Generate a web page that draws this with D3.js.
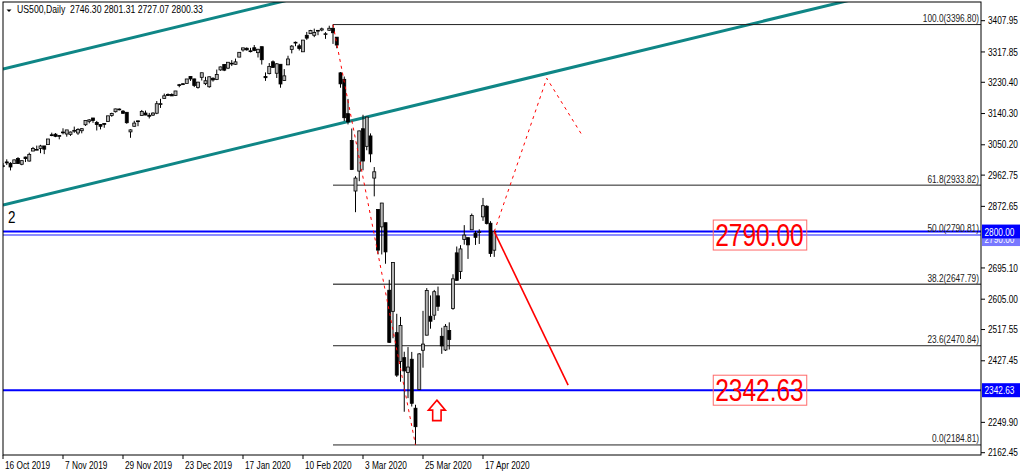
<!DOCTYPE html>
<html><head><meta charset="utf-8">
<script src="https://cdn.jsdelivr.net/npm/d3@7"></script>
<style>html,body{margin:0;padding:0;background:#fff;overflow:hidden}svg{display:block}</style>
</head><body>
<script>
// ---------- DATA ----------
const dates = ["16 Oct","17 Oct","18 Oct","21 Oct","22 Oct","23 Oct","24 Oct","25 Oct","28 Oct","29 Oct","30 Oct","31 Oct",
"1 Nov","4 Nov","5 Nov","6 Nov","7 Nov","8 Nov","11 Nov","12 Nov","13 Nov","14 Nov","15 Nov","18 Nov","19 Nov","20 Nov","21 Nov","22 Nov","25 Nov","26 Nov","27 Nov","28 Nov","29 Nov",
"2 Dec","3 Dec","4 Dec","5 Dec","6 Dec","9 Dec","10 Dec","11 Dec","12 Dec","13 Dec","16 Dec","17 Dec","18 Dec","19 Dec","20 Dec","23 Dec","26 Dec","27 Dec","30 Dec","31 Dec",
"2 Jan","3 Jan","6 Jan","7 Jan","8 Jan","9 Jan","10 Jan","13 Jan","14 Jan","15 Jan","16 Jan","17 Jan","20 Jan","21 Jan","22 Jan","23 Jan","24 Jan","27 Jan","28 Jan","29 Jan","30 Jan","31 Jan",
"3 Feb","4 Feb","5 Feb","6 Feb","7 Feb","10 Feb","11 Feb","12 Feb","13 Feb","14 Feb","17 Feb","18 Feb","19 Feb","20 Feb","21 Feb","24 Feb","25 Feb","26 Feb","27 Feb","28 Feb",
"2 Mar","3 Mar","4 Mar","5 Mar","6 Mar","9 Mar","10 Mar","11 Mar","12 Mar","13 Mar","16 Mar","17 Mar","18 Mar","19 Mar","20 Mar","23 Mar","24 Mar","25 Mar","26 Mar","27 Mar","30 Mar","31 Mar",
"1 Apr","2 Apr","3 Apr","6 Apr","7 Apr","8 Apr","9 Apr","13 Apr","14 Apr","15 Apr","16 Apr","17 Apr","20 Apr","21 Apr","22 Apr"];
const open = [2989.68,3000.77,2996.84,2996.48,3010.73,2994.01,3014.78,3003.32,3032.12,3035.39,3039.74,3046.90,
3050.72,3078.96,3080.80,3075.10,3087.02,3081.25,3080.33,3089.28,3084.18,3090.75,3107.92,3117.91,3127.45,3114.66,3108.49,3111.41,3117.44,3134.85,3145.49,3153.20,3147.18,
3143.85,3087.41,3103.50,3119.21,3134.62,3141.86,3135.36,3135.75,3141.23,3166.65,3183.63,3195.40,3195.21,3192.32,3223.33,3226.05,3227.20,3247.23,3240.09,3215.18,
3244.67,3226.36,3217.55,3241.86,3238.59,3266.03,3281.81,3271.13,3285.35,3282.27,3302.97,3323.66,3328.50,3321.03,3330.02,3315.77,3333.10,3247.16,3255.35,3289.46,3256.45,3282.33,
3235.66,3280.61,3324.91,3344.92,3335.54,3318.28,3365.87,3370.50,3365.90,3378.08,3381.00,3369.04,3380.39,3386.00,3360.50,3257.61,3238.94,3139.90,3062.54,2916.90,
2974.28,3096.46,3045.75,3075.70,2954.20,2863.89,2813.48,2825.60,2630.86,2569.99,2508.59,2425.66,2436.50,2393.48,2431.94,2290.71,2344.44,2457.77,2501.29,2555.87,2558.98,2614.69,
2498.08,2458.54,2514.92,2578.28,2738.65,2685.00,2776.99,2782.46,2805.10,2795.64,2799.34,2842.43,2873.00,2824.00,2746.30];
const high = [2997.54,3008.29,3000.00,3007.33,3014.57,3004.78,3016.07,3027.39,3044.08,3047.87,3050.10,3046.90,
3066.95,3085.20,3083.95,3078.34,3097.77,3093.09,3088.33,3102.61,3098.06,3098.20,3120.46,3124.17,3127.64,3118.97,3110.11,3112.87,3133.83,3142.69,3154.26,3155.10,3150.30,
3144.31,3094.97,3119.38,3119.45,3150.60,3148.87,3142.12,3143.98,3176.28,3182.68,3197.71,3198.22,3198.48,3205.48,3225.65,3227.78,3240.08,3247.93,3240.92,3231.72,
3258.14,3246.15,3246.84,3244.91,3267.07,3275.58,3282.99,3288.13,3294.25,3298.66,3317.11,3329.88,3331.00,3329.79,3337.77,3326.88,3333.18,3258.85,3285.78,3293.47,3285.91,3282.33,
3268.44,3306.92,3337.58,3347.96,3341.42,3352.26,3375.63,3381.47,3385.09,3380.69,3388.00,3375.01,3393.52,3396.80,3360.76,3259.81,3246.99,3182.51,3097.07,2959.72,
3090.96,3136.72,3130.97,3083.04,2985.93,2863.89,2882.59,2825.60,2660.95,2711.33,2562.98,2553.93,2453.57,2466.97,2453.01,2300.73,2449.71,2571.42,2637.01,2615.91,2631.80,2641.39,
2522.75,2533.22,2538.18,2676.85,2756.89,2760.75,2818.57,2782.46,2851.85,2801.88,2806.51,2897.00,2876.00,2830.00,2801.31];
const low = [2985.20,2991.79,2976.31,2995.35,2995.04,2991.21,3000.42,3001.94,3032.12,3034.81,3025.96,3023.19,
3050.72,3074.87,3072.15,3065.89,3080.23,3073.58,3075.82,3084.73,3078.80,3083.26,3104.60,3112.06,3113.47,3091.41,3094.55,3099.26,3117.44,3131.00,3143.41,3149.40,3139.34,
3110.78,3070.33,3102.53,3103.76,3134.62,3135.46,3126.09,3133.21,3138.47,3156.51,3183.63,3191.03,3191.14,3191.72,3216.03,3222.30,3227.20,3234.37,3216.57,3212.03,
3235.53,3222.34,3214.64,3232.43,3236.67,3263.67,3262.56,3268.43,3277.19,3280.69,3302.82,3318.86,3321.50,3316.61,3320.04,3301.87,3281.53,3234.50,3253.22,3271.89,3242.80,3214.68,
3235.66,3280.61,3313.75,3334.39,3322.12,3317.77,3352.72,3369.72,3360.52,3366.15,3377.50,3355.61,3378.83,3341.02,3328.45,3214.65,3118.77,3108.99,2977.39,2855.84,
2945.19,2976.63,3034.38,2999.83,2901.54,2734.43,2734.00,2707.22,2478.86,2492.37,2380.94,2367.04,2280.52,2319.78,2295.56,2184.81,2344.44,2407.53,2500.72,2520.02,2545.28,2571.15,
2447.49,2455.79,2459.96,2574.57,2657.67,2663.30,2762.36,2721.17,2805.10,2761.54,2764.32,2830.88,2820.43,2727.10,2727.07];
const close = [2989.69,2997.95,2986.20,3006.72,2995.99,3004.52,3010.29,3022.55,3039.42,3036.89,3046.77,3037.56,
3066.91,3078.27,3074.62,3076.78,3085.18,3093.08,3087.01,3091.84,3094.04,3096.63,3120.46,3122.03,3120.18,3108.46,3103.54,3110.29,3133.64,3140.52,3153.63,3151.80,3140.98,
3113.87,3093.20,3112.76,3117.43,3145.91,3135.96,3132.52,3141.63,3168.57,3168.80,3191.45,3192.52,3191.14,3205.37,3221.22,3224.01,3239.91,3240.02,3221.29,3230.78,
3257.85,3234.85,3246.28,3237.18,3253.05,3274.70,3265.35,3288.13,3283.15,3289.29,3316.81,3329.62,3324.00,3320.79,3321.75,3325.54,3295.47,3243.63,3276.24,3273.40,3283.66,3225.52,
3248.92,3297.59,3334.69,3345.78,3327.71,3352.09,3357.75,3379.45,3373.94,3380.16,3384.50,3370.29,3386.15,3373.23,3337.75,3225.89,3128.21,3116.39,2978.76,2954.22,
3090.23,3003.37,3130.12,3023.94,2972.37,2746.56,2882.23,2741.38,2480.64,2711.02,2386.13,2529.19,2398.10,2409.39,2304.92,2237.40,2447.33,2475.56,2630.07,2541.47,2626.65,2584.59,
2470.50,2526.90,2488.65,2663.68,2659.41,2749.98,2789.82,2761.63,2846.06,2783.36,2799.55,2874.56,2823.16,2736.56,2800.33];

const xTickIdx = [0,16,32,48,64,80,96,112,128];
const xTickLabels = ["16 Oct 2019","7 Nov 2019","29 Nov 2019","23 Dec 2019","17 Jan 2020","10 Feb 2020","3 Mar 2020","25 Mar 2020","17 Apr 2020"];
const yTicks = [3407.95,3317.85,3230.40,3140.30,3050.20,2962.75,2872.65,2695.10,2605.00,2517.55,2427.45,2249.90,2162.45];
const yTickLabels = ["3407.95","3317.85","3230.40","3140.30","3050.20","2962.75","2872.65","2695.10","2605.00","2517.55","2427.45","2249.90","2162.45"];

const fibHighIdx = 88, fibHigh = 3396.80, fibLow = 2184.81;
const fibRatios = [100.0, 61.8, 50.0, 38.2, 23.6, 0.0];
const fibLabels = ["100.0(3396.80)","61.8(2933.82)","50.0(2790.81)","38.2(2647.79)","23.6(2470.84)","0.0(2184.81)"];

const hLevels = [2800.00, 2790.00, 2342.63];
const hLevelLabels = ["2800.00","2790.00","2342.63"];
const channelUpper = [[0,3268.7],[250,3922.5]];
const channelLower = [[0,2876.6],[250,3530.4]];
const crashPath = [[88,3396.80],[110,2184.81]];
const upPath = [[131,2800.0],[145,3242],[154.7,3073]];
const downPath = [[131,2800.0],[150.7,2357]];
const boxes = [{i:189.4,p:2790.00,t:"2790.00"},{i:189.4,p:2342.63,t:"2342.63"}];
const arrowAnchor = {i:115.7,p:2314};
const header = "US500,Daily  2746.30 2801.31 2727.07 2800.33";
const waveLabel = {i:1.3,p:2825,t:"2"};

// ---------- DRAW ----------
const W=1024,H=475, L=3, R=981, T=2, B=455;
const svg = d3.select("body").append("svg").attr("width",W).attr("height",H);
const x = d3.scaleLinear().domain([0,131]).range([3,494.25]);
const y = d3.scaleLinear().domain([2162.45,3407.95]).range([452.7,20.7]);
const SQ = 0.79;
const font = "'Liberation Sans', Arial, sans-serif";

svg.append("defs").append("clipPath").attr("id","pc").append("rect")
  .attr("x",L).attr("y",T).attr("width",R-L).attr("height",B-T);
const plot = svg.append("g").attr("clip-path","url(#pc)");

function txt(g, px, py, s, size, anchor, color){
  return g.append("text").attr("transform",`translate(${px},${py}) scale(${SQ},1)`)
    .attr("font-family",font).attr("font-size",size).attr("text-anchor",anchor||"start")
    .attr("fill",color||"#000").style("white-space","pre").text(s);
}
const line = d3.line().x(d=>x(d[0])).y(d=>y(d[1]));

// channel
[channelUpper, channelLower].forEach(c=>{
  plot.append("path").attr("d",line(c)).attr("stroke","#0f8686").attr("stroke-width",3).attr("fill","none");
});

// fib lines
fibRatios.forEach((r,k)=>{
  const p = fibLow + (fibHigh-fibLow)*r/100;
  plot.append("line").attr("x1",x(fibHighIdx)).attr("x2",R).attr("y1",y(p)).attr("y2",y(p))
    .attr("stroke",(k==2||k==3)?"#555":"#222").attr("stroke-width",(k==2||k==3)?1.5:1);
  txt(svg, R-2, y(p)-2.5, fibLabels[k], 10.5, "end", "#222");
});

// horizontal levels
plot.append("line").attr("x1",L).attr("x2",R).attr("y1",y(hLevels[1])).attr("y2",y(hLevels[1]))
  .attr("stroke","#8c8cff").attr("stroke-width",2);
[0,2].forEach(k=>{
  plot.append("line").attr("x1",L).attr("x2",R).attr("y1",y(hLevels[k])).attr("y2",y(hLevels[k]))
    .attr("stroke","#0000ff").attr("stroke-width",2);
});

// candles
const bw = 3;
const cg = plot.append("g");
close.forEach((c,i)=>{
  const o=open[i], h=high[i], l=low[i], cx=x(i);
  cg.append("line").attr("x1",cx).attr("x2",cx).attr("y1",y(h)).attr("y2",y(l)).attr("stroke","#000").attr("stroke-width",1);
  const top=y(Math.max(o,c)), bot=y(Math.min(o,c));
  cg.append("rect").attr("x",cx-bw/2).attr("y",top).attr("width",bw).attr("height",Math.max(0.8,bot-top))
    .attr("fill", c>=o?"#b4b4b4":"#000").attr("stroke","#000").attr("stroke-width",0.8);
});

// red paths
plot.append("path").attr("d",line(crashPath)).attr("stroke","#ff0000").attr("stroke-width",1).attr("stroke-dasharray","3,4").attr("fill","none");
plot.append("path").attr("d",line(upPath)).attr("stroke","#ff0000").attr("stroke-width",1).attr("stroke-dasharray","3,4").attr("fill","none");
plot.append("path").attr("d",line(downPath)).attr("stroke","#ff0000").attr("stroke-width",1.6).attr("fill","none");

// boxes
boxes.forEach(b=>{
  const bx=x(b.i), by=y(b.p);
  plot.append("rect").attr("x",bx).attr("y",by-15).attr("width",93.5).attr("height",30)
    .attr("fill","none").attr("stroke","#ff6a6a").attr("stroke-width",1);
  txt(plot, bx+2, by+11, b.t, 31, "start", "#ff0000");
});

// arrow
{
  const ax=x(arrowAnchor.i), ay=y(arrowAnchor.p);
  const pth = `M${ax},${ay} L${ax+8.5},${ay+10} L${ax+4.2},${ay+10} L${ax+4.2},${ay+20.5} L${ax-4.2},${ay+20.5} L${ax-4.2},${ay+10} L${ax-8.5},${ay+10} Z`;
  plot.append("path").attr("d",pth).attr("fill","#fff").attr("stroke","#ff0000").attr("stroke-width",1.6);
}

// wave label
txt(plot, x(waveLabel.i), y(waveLabel.p), waveLabel.t, 17, "start", "#000");

// frame
svg.append("rect").attr("x",L).attr("y",T).attr("width",R-L).attr("height",B-T).attr("fill","none").attr("stroke","#000").attr("stroke-width",1);

// y axis
yTicks.forEach((v,k)=>{
  svg.append("line").attr("x1",R).attr("x2",R+4).attr("y1",y(v)).attr("y2",y(v)).attr("stroke","#000");
  txt(svg, R+7, y(v)+3.7, yTickLabels[k], 10.5, "start", "#000");
});
// level labels on axis (2790 label partly hidden under 2800 label, as in the reference)
const lvlG = svg.append("g");
const clipLow = svg.select("defs").append("clipPath").attr("id","lc");
clipLow.append("rect").attr("x",R).attr("y",y(hLevels[0])+7).attr("width",43).attr("height",10);
const g2790 = lvlG.append("g").attr("clip-path","url(#lc)");
{
  const yy = y(hLevels[1]) + 4;
  g2790.append("rect").attr("x",R+1).attr("y",yy-7).attr("width",38).attr("height",14).attr("fill","#7878ff");
  txt(g2790, R+3.5, yy+4, hLevelLabels[1], 10.5, "start", "#fff");
}
[0,2].forEach(k=>{
  const yy = y(hLevels[k]);
  lvlG.append("rect").attr("x",R+1).attr("y",yy-7).attr("width",38).attr("height",14).attr("fill","#0000ff");
  txt(lvlG, R+3.5, yy+4, hLevelLabels[k], 10.5, "start", "#fff");
});

// x axis
xTickIdx.forEach((i,k)=>{
  svg.append("line").attr("x1",x(i)).attr("x2",x(i)).attr("y1",B).attr("y2",B+4).attr("stroke","#000");
  txt(svg, x(i)+2, B+14, xTickLabels[k], 10.5, "start", "#000");
});

// header
svg.append("path").attr("d","M6.5,9.5 L11.5,9.5 L9,12 Z").attr("fill","#000");
txt(svg, 17, 13, header, 11, "start", "#000");
</script>
</body></html>
